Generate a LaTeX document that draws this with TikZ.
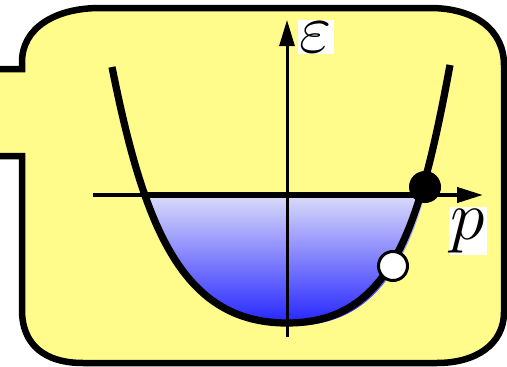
\documentclass[tikz,border=0pt]{standalone}
\usetikzlibrary{arrows.meta}
\definecolor{padyellow}{RGB}{255,252,140}
\definecolor{seatop}{RGB}{216,216,250}
\definecolor{seabottom}{RGB}{28,28,255}
\newcommand{\bandcurve}{(112,67) .. controls (144,227) and (182,323) .. (287,323) .. controls (392,323) and (420,227) .. (450,65)}
\newcommand{\biglbl}[1]{\scalebox{1.6}{\Huge$#1$}}
\tikzset{
  panel/.style={draw, line width=1.3mm, fill=padyellow, line join=miter},
  axis/.style={-{Triangle[length=5.2mm, width=3mm]}, line width=0.8mm},
  band/.style={line width=1.45mm},
  level/.style={line width=1.2mm},
  occupied/.style={circle, fill=black, inner sep=0pt, minimum size=6.4mm},
  hole/.style={circle, draw, line width=0.6mm, fill=white, inner sep=0pt, minimum size=5.8mm},
  lbl/.style={fill=white, inner sep=1pt},
}

\begin{document}
\begin{tikzpicture}[x=0.2mm, y=-0.2mm]
  \useasboundingbox (0,0) rectangle (507,367);
  % callout panel
  \draw[panel] (-10,69) -- (22,69) -- (22,62) .. controls (22,28) and (55,8) .. (100,8)
    -- (430,8) .. controls (475,8) and (504,30) .. (504,65) -- (504,312)
    .. controls (504,345) and (475,363) .. (437,363) -- (83,363)
    .. controls (45,363) and (22,345) .. (22,310) -- (22,156) -- (-10,156);
  % filled states
  \begin{scope}
    \clip[shift={(4,3)}] \bandcurve -- cycle;
    \shade[top color=seatop, bottom color=seabottom] (100,197) rectangle (470,330);
  \end{scope}
  % axes
  \coordinate (pleft) at (93,195);
  \coordinate (pright) at (483,195);
  \coordinate (ebottom) at (287,337);
  \coordinate (etop) at (287,20);
  \coordinate (kfl) at (143,195);
  \coordinate (kfr) at (425,195);
  \draw[axis] (pleft) -- (pright);
  \draw[axis, line width=0.6mm] (ebottom) -- (etop);
  \draw[level] (kfl) -- (kfr);
  \draw[band] \bandcurve;
  \node[occupied] (occ) at (425,187) {};
  \node[hole] (hl) at (393,266) {};
  \node[lbl] (eps) at (316,37) {\biglbl{\varepsilon}};
  \node[lbl] (mom) at (468,231) {\biglbl{p}};
\end{tikzpicture}
\end{document}
